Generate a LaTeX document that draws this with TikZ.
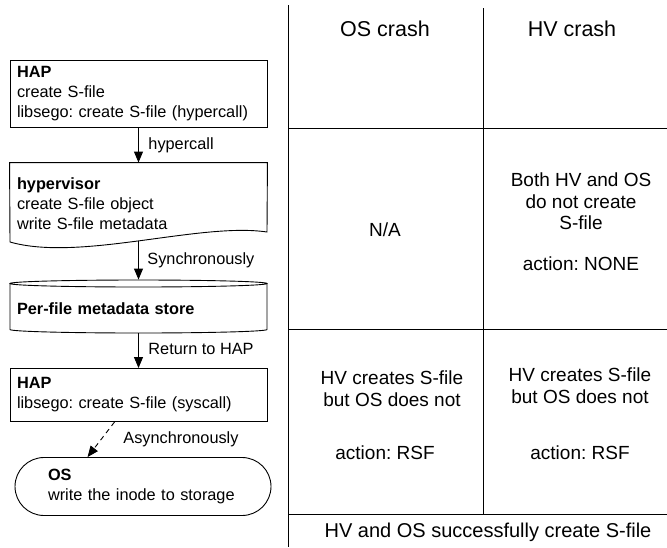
\documentclass[tikz,border=0pt]{standalone}
\usepackage{fontspec}
\setmainfont{Liberation Sans}
\usetikzlibrary{arrows.meta,calc}
\frenchspacing
\newcommand\lftfont{\fontsize{16.3}{20}\selectfont}
\newcommand\cellfont{\fontsize{19}{21.5}\selectfont}
\begin{document}
\begin{tikzpicture}[x=1pt,y=-1pt,line width=0.9pt,
  box/.style={draw, minimum width=257pt, text width=243pt, align=left, inner xsep=7pt, inner ysep=0pt, font=\lftfont},
  arr/.style={-{Triangle[length=11pt,width=9pt]}},
  lbl/.style={anchor=base west, inner sep=0pt, font=\lftfont},
  cell/.style={align=center, inner sep=0pt, font=\cellfont},
  head/.style={anchor=base, inner sep=0pt, font=\fontsize{21.5}{24}\selectfont}]
\useasboundingbox (0,0) rectangle (667,547);

% ---- left flow ----
\node[box, minimum height=67pt] (hap1) at (138.5,94) {\textbf{HAP}\\create S-file\\libsego: create S-file (hypercall)};

\node[box, draw=none, minimum height=82pt] (hv) at (138.5,204) {\textbf{hypervisor}\\create S-file object\\write S-file metadata};
\draw (hv.north west) -- (hv.north east) -- (267,232)
  .. controls (200,222) and (80,262) .. (10,242) -- cycle;
\coordinate (hvb) at (138.5,240.8);

\node[box, draw=none, minimum height=58pt] (store) at (138.5,309) {\textbf{Per-file metadata store}};
\draw (138.5,283.5) ellipse [x radius=128.5, y radius=3.5];
\draw (10,283.5) -- (10,329.5) arc[start angle=180, end angle=0, x radius=128.5, y radius=3.5] -- (267,283.5);
\coordinate (storeb) at (138.5,333);

\node[box, minimum height=53pt] (hap2) at (138.5,395) {\textbf{HAP}\\libsego: create S-file (syscall)};

\node[draw, rounded corners=29pt, minimum width=256pt, minimum height=58pt, text width=190pt, inner xsep=33pt, inner ysep=0pt, align=left, font=\lftfont] (os) at (143,486.5) {\textbf{OS}\\write the inode to storage};

\draw[arr] (hap1.south) -- (hv.north);
\draw[arr] (hvb) -- (store.north);
\draw[arr] (storeb) -- (hap2.north);
\draw[arr, dash pattern=on 5pt off 4pt] ($(hap2.south west)+(105,0)$) -- ($(os.north west)+(73,0)$);

\node[lbl] (l1) at (148,149) {hypercall};
\node[lbl] (l2) at (147,264) {Synchronously};
\node[lbl] (l3) at (148,354) {Return to HAP};
\node[lbl] (l4) at (123,443) {Asynchronously};

% ---- table ----
\draw (288,5) -- (288,547);
\draw (483,8) -- (483,514);
\draw (288,128) -- (667,128);
\draw (288,329) -- (667,329);
\draw (288,514) -- (667,514);

\node[head] (h1) at (385,36) {OS crash};
\node[head] (h2) at (572,36) {HV crash};
\node[cell, anchor=base] (na) at (385,236) {N/A};
\node[cell] (both) at (581,201.6) {Both HV and OS\\do not create\\S-file};
\node[cell, anchor=base] (none) at (581,270) {action: NONE};
\node[cell] (hvl) at (392,388.7) {HV creates S-file\\but OS does not};
\node[cell, anchor=base] (rsfl) at (385,459) {action: RSF};
\node[cell] (hvr) at (580,385.7) {HV creates S-file\\but OS does not};
\node[cell, anchor=base] (rsfr) at (580,459) {action: RSF};
\node[anchor=base, inner sep=0pt, font=\fontsize{20}{24}\selectfont] (ok) at (488,537) {HV and OS successfully create S-file};
\end{tikzpicture}
\end{document}
